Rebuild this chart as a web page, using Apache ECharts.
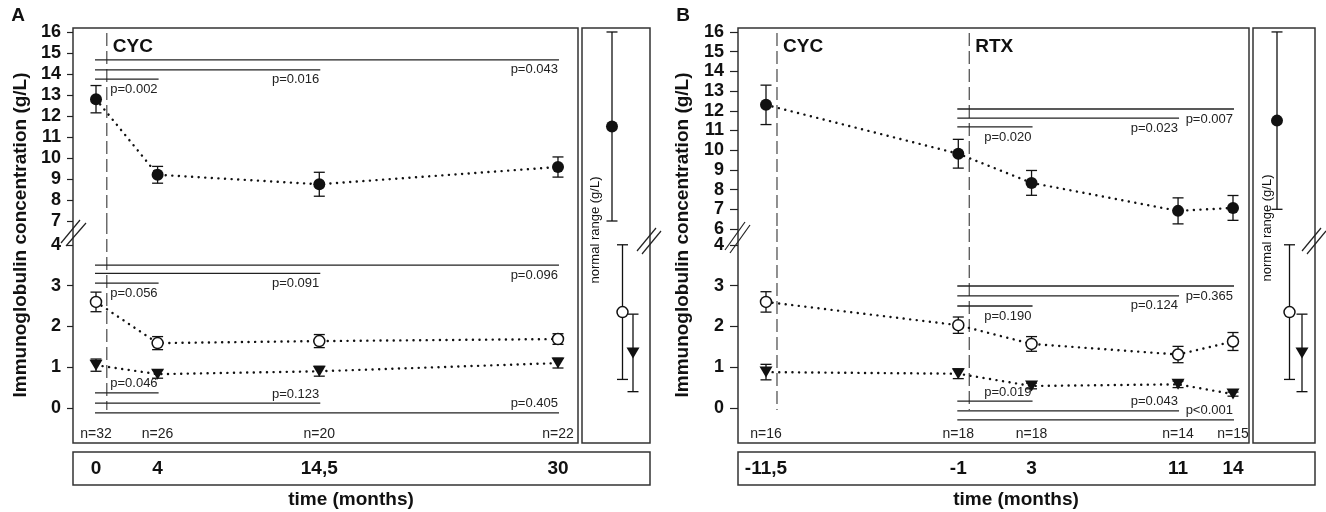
<!DOCTYPE html>
<html>
<head>
<meta charset="utf-8">
<title>Immunoglobulin concentration</title>
<script src="https://cdn.jsdelivr.net/npm/echarts@6.0.0/dist/echarts.min.js"></script>
<style>
  html, body { margin: 0; padding: 0; background: #fff; }
  #chart { width: 1326px; height: 512px; }
</style>
</head>
<body>
<div id="chart"></div>
<script>
// ---- panel A (CYC) ----
const timeA = [0, 4, 14.5, 30];
const nA = [32, 26, 20, 22];
const iggA = [12.8, 9.2, 8.75, 9.57];
const iggErrA = [0.65, 0.4, 0.57, 0.48];
const igaA = [2.6, 1.59, 1.64, 1.69];
const igaErrA = [0.24, 0.16, 0.16, 0.13];
const igmA = [1.05, 0.83, 0.9, 1.1];
const igmErrA = [0.15, 0.1, 0.12, 0.12];
const eventsA = [['CYC', 0.7]];
// significance bars: [from, to, level]
const sigIggA = [[0, 4, 13.76], [0, 14.5, 14.2], [0, 30, 14.67]];
const pIggA = ['p=0.002', 'p=0.016', 'p=0.043'];
const sigIgaA = [[0, 4, 3.06], [0, 14.5, 3.3], [0, 30, 3.5]];
const pIgaA = ['p=0.056', 'p=0.091', 'p=0.096'];
const sigIgmA = [[0, 4, 0.37], [0, 14.5, 0.12], [0, 30, -0.12]];
const pIgmA = ['p=0.046', 'p=0.123', 'p=0.405'];

// ---- panel B (CYC then RTX) ----
const timeB = [-11.5, -1, 3, 11, 14];
const nB = [16, 18, 18, 14, 15];
const iggB = [12.3, 9.82, 8.34, 6.92, 7.07];
const iggErrB = [1.0, 0.73, 0.63, 0.66, 0.63];
const igaB = [2.6, 2.03, 1.57, 1.31, 1.63];
const igaErrB = [0.25, 0.2, 0.18, 0.2, 0.22];
const igmB = [0.88, 0.84, 0.54, 0.58, 0.34];
const igmErrB = [0.19, 0.12, 0.07, 0.08, 0.05];
const eventsB = [['CYC', -10.9], ['RTX', -0.4]];
const sigIggB = [[-1, 3, 11.18], [-1, 11, 11.63], [-1, 14, 12.09]];
const pIggB = ['p=0.020', 'p=0.023', 'p=0.007'];
const sigIgaB = [[-1, 3, 2.5], [-1, 11, 2.75], [-1, 14, 2.99]];
const pIgaB = ['p=0.190', 'p=0.124', 'p=0.365'];
const sigIgmB = [[-1, 3, 0.17], [-1, 11, -0.07], [-1, 14, -0.29]];
const pIgmB = ['p=0.019', 'p=0.043', 'p<0.001'];

// normal range: IgG, IgA, IgM
const normLow = [7, 0.7, 0.4];
const normHigh = [16, 4.0, 2.3];
const normMid = [11.5, 2.35, 1.35];

// tick labels
const yTicksUpA = [7, 8, 9, 10, 11, 12, 13, 14, 15, 16];
const yTicksUpB = [6, 7, 8, 9, 10, 11, 12, 13, 14, 15, 16];
const yTicksLow = [0, 1, 2, 3, 4];

const FONT = '"Liberation Sans", Arial, sans-serif';
const INK = '#111';

const grid = [], xAxis = [], yAxis = [], series = [];

// one grid with its own x and y axis (same index for all three)
function addCell(box, xr, yr, xOpt, yOpt) {
  grid.push({ left: box[0], top: box[1], width: box[2], height: box[3], show: false, outerBoundsMode: 'none' });
  const gi = grid.length - 1;
  xAxis.push(Object.assign({ gridIndex: gi, type: 'value', min: xr[0], max: xr[1], show: false }, xOpt || {}));
  yAxis.push(Object.assign({ gridIndex: gi, type: 'value', min: yr[0], max: yr[1], show: false }, yOpt || {}));
  return gi;
}

function yLabelAxis(ticks, tickLen, margin) {
  return {
    show: true,
    axisLine: { show: false, onZero: false },
    splitLine: { show: false },
    axisTick: { show: true, length: tickLen, customValues: ticks, lineStyle: { color: '#222', width: 1.2 } },
    axisLabel: { show: true, customValues: ticks, margin: margin, color: INK, fontSize: 18, fontWeight: 'bold', fontFamily: FONT }
  };
}

function errRender(params, api) {
  const x = api.value(0);
  const top = api.coord([x, api.value(2)]);
  const bot = api.coord([x, api.value(1)]);
  const w = 5.5;
  const st = { stroke: INK, lineWidth: 1.3 };
  return {
    type: 'group', children: [
      { type: 'line', shape: { x1: top[0], y1: top[1], x2: bot[0], y2: bot[1] }, style: st },
      { type: 'line', shape: { x1: top[0] - w, y1: top[1], x2: top[0] + w, y2: top[1] }, style: st },
      { type: 'line', shape: { x1: bot[0] - w, y1: bot[1], x2: bot[0] + w, y2: bot[1] }, style: st }
    ]
  };
}

// rows are [x, low, high]
function errSeries(gi, rows) {
  return {
    type: 'custom', xAxisIndex: gi, yAxisIndex: gi, z: 4, silent: true,
    data: rows,
    encode: { x: 0, y: [1, 2] },
    renderItem: errRender
  };
}

const markers = {
  filled: { symbol: 'circle', symbolSize: 12, itemStyle: { color: INK, opacity: 1 } },
  open: { symbol: 'circle', symbolSize: 11, itemStyle: { color: '#fff', borderColor: INK, borderWidth: 1.5, opacity: 1 } },
  tri: { symbol: 'triangle', symbolRotate: 180, symbolSize: [13, 11], itemStyle: { color: INK, opacity: 1 } }
};

function lineSeries(gi, xs, vals, mk) {
  return Object.assign({
    type: 'line', xAxisIndex: gi, yAxisIndex: gi, z: 6, silent: true,
    data: xs.map((t, k) => [t, vals[k]]),
    lineStyle: { color: INK, width: 2.4, type: [0.1, 6.5], cap: 'round' }
  }, JSON.parse(JSON.stringify(mk)));
}

function sigSeries(gi, sig, labels, below) {
  return {
    type: 'custom', xAxisIndex: gi, yAxisIndex: gi, z: 3, silent: true,
    data: sig.map(s => s.slice()),
    encode: { x: [0, 1], y: 2 },
    renderItem: (params, api) => {
      const a = api.coord([api.value(0), api.value(2)]);
      const b = api.coord([api.value(1), api.value(2)]);
      return {
        type: 'group', children: [
          { type: 'line', shape: { x1: a[0] - 1, y1: a[1], x2: b[0] + 1, y2: b[1] }, style: { stroke: '#222', lineWidth: 1.3 } },
          { type: 'text', style: { text: labels[params.dataIndex], x: b[0], y: b[1] + (below ? 10 : -9),
            align: 'right', verticalAlign: 'middle', fill: '#222', fontSize: 13, fontFamily: FONT } }
        ]
      };
    }
  };
}

function eventSeries(gi, events, withLabel, endValue) {
  return {
    type: 'custom', xAxisIndex: gi, yAxisIndex: gi, z: 2, silent: true,
    data: events.map(e => [e[1], 0]),
    encode: { x: 0, y: 1 },
    renderItem: (params, api) => {
      const cs = params.coordSys;
      const x = api.coord([api.value(0), 0])[0];
      const y1 = withLabel ? cs.y + 5 : cs.y;
      const y2 = withLabel ? cs.y + cs.height : api.coord([api.value(0), endValue])[1];
      const kids = [{ type: 'line', shape: { x1: x, y1: y1, x2: x, y2: y2 },
        style: { stroke: '#555', lineWidth: 1.3, lineDash: [13, 5] } }];
      if (withLabel) {
        kids.push({ type: 'text', style: { text: events[params.dataIndex][0], x: x + 6, y: cs.y + 19,
          align: 'left', verticalAlign: 'middle', fill: INK, fontSize: 19, fontWeight: 'bold', fontFamily: FONT } });
      }
      return { type: 'group', children: kids };
    }
  };
}

function scatterMark(gi, x, y, mk) {
  return Object.assign({ type: 'scatter', xAxisIndex: gi, yAxisIndex: gi, z: 6, silent: true, data: [[x, y]] },
    JSON.parse(JSON.stringify(mk)));
}

function buildPanel(P) {
  const xr = [P.xMin, P.xMax];
  const w = P.right - P.left;
  const upR = [P.upMin, P.upMax];
  const loR = [-0.858, P.loMax];
  const up = addCell([P.left, 28, w, P.split - 28], xr, upR, null, yLabelAxis(P.ticksUp, P.tickLen, P.margin));
  const lo = addCell([P.left, P.split, w, 443 - P.split], xr, loR, {
    show: true, axisLine: { show: false, onZero: false }, axisTick: { show: false }, splitLine: { show: false },
    axisLabel: { show: true, inside: true, margin: 2, customValues: P.time,
      formatter: v => 'n=' + P.n[P.time.indexOf(v)], fontSize: 14, color: '#222', fontFamily: FONT }
  }, yLabelAxis(yTicksLow, P.tickLen, P.margin));
  const nw = P.normRight - P.normLeft;
  const nr = [P.nMin, P.nMax];
  const nUp = addCell([P.normLeft, 28, nw, P.split - 28], nr, upR);
  const nLo = addCell([P.normLeft, P.split, nw, 443 - P.split], nr, loR);
  addCell([P.left, 452, w, 33], xr, [0, 1], {
    show: true, axisLine: { show: false, onZero: false }, axisTick: { show: false }, splitLine: { show: false },
    axisLabel: { show: true, inside: true, margin: 7, customValues: P.time,
      formatter: v => String(v).replace('.', ','), fontSize: 19, fontWeight: 'bold', color: INK, fontFamily: FONT }
  });

  const rows = (vals, errs) => P.time.map((t, k) => [t, vals[k] - errs[k], vals[k] + errs[k]]);

  series.push(eventSeries(up, P.events, true));
  series.push(eventSeries(lo, P.events, false, -0.05));
  series.push(sigSeries(up, P.sigG, P.pG, true));
  series.push(sigSeries(lo, P.sigA, P.pA, true));
  series.push(sigSeries(lo, P.sigM, P.pM, false));
  series.push(errSeries(up, rows(P.igg, P.iggErr)));
  series.push(errSeries(lo, rows(P.iga, P.igaErr)));
  series.push(errSeries(lo, rows(P.igm, P.igmErr)));
  series.push(lineSeries(up, P.time, P.igg, markers.filled));
  series.push(lineSeries(lo, P.time, P.iga, markers.open));
  series.push(lineSeries(lo, P.time, P.igm, markers.tri));

  // normal range column: IgG (upper scale), IgA and IgM (lower scale)
  series.push(errSeries(nUp, [[0, normLow[0], normHigh[0]]]));
  series.push(errSeries(nLo, [[1, normLow[1], normHigh[1]], [2, normLow[2], normHigh[2]]]));
  series.push(scatterMark(nUp, 0, normMid[0], markers.filled));
  series.push(scatterMark(nLo, 1, normMid[1], markers.open));
  series.push(scatterMark(nLo, 2, normMid[2], markers.tri));
}

buildPanel({
  left: 73, right: 578, normLeft: 582, normRight: 650, split: 221,
  xMin: -1.494, xMax: 31.3, upMin: 7, upMax: 16.19, loMax: 4.583, nMin: -2.857, nMax: 3.619,
  ticksUp: yTicksUpA, tickLen: 6, margin: 12,
  time: timeA, n: nA, igg: iggA, iggErr: iggErrA, iga: igaA, igaErr: igaErrA, igm: igmA, igmErr: igmErrA,
  events: eventsA, sigG: sigIggA, pG: pIggA, sigA: sigIgaA, pA: pIgaA, sigM: sigIgmA, pM: pIgmA
});
buildPanel({
  left: 738, right: 1249, normLeft: 1253, normRight: 1315, split: 229,
  xMin: -13.029, xMax: 14.874, upMin: 6, upMax: 16.2, loMax: 4.387, nMin: -1.92, nMax: 3.04,
  ticksUp: yTicksUpB, tickLen: 8, margin: 14,
  time: timeB, n: nB, igg: iggB, iggErr: iggErrB, iga: igaB, igaErr: igaErrB, igm: igmB, igmErr: igmErrB,
  events: eventsB, sigG: sigIggB, pG: pIggB, sigA: sigIgaB, pA: pIgaB, sigM: sigIgmB, pM: pIgmB
});

// frames, break marks and titles
const boxStyle = { fill: 'none', stroke: '#333', lineWidth: 1.5 };
function rect(x, y, w, h) { return { type: 'rect', silent: true, shape: { x: x, y: y, width: w, height: h }, style: boxStyle }; }
function slash(x1, y1, x2, y2) {
  return { type: 'line', silent: true, shape: { x1: x1, y1: y1, x2: x2, y2: y2 }, style: { stroke: '#222', lineWidth: 1.2 } };
}
function txt(x, y, text, size, bold, rot) {
  return { type: 'text', silent: true, x: x, y: y, rotation: rot || 0,
    style: { text: text, align: 'center', verticalAlign: 'middle', fill: INK, fontSize: size,
      fontWeight: bold ? 'bold' : 'normal', fontFamily: FONT } };
}
const graphic = [
  rect(73, 28, 505, 415), rect(582, 28, 68, 415), rect(73, 452, 577, 33),
  rect(738, 28, 511, 415), rect(1253, 28, 62, 415), rect(738, 452, 577, 33),
  slash(61, 243, 80, 220), slash(66, 246, 86, 223),
  slash(637, 251, 656, 228), slash(642, 254, 661, 231),
  slash(725, 250, 745, 222), slash(730, 253, 750, 225),
  slash(1302, 251, 1321, 228), slash(1307, 254, 1326, 231),
  txt(18, 16, 'A', 19, true), txt(683, 16, 'B', 19, true),
  txt(21, 235, 'Immunoglobulin concentration (g/L)', 19, true, Math.PI / 2),
  txt(683, 235, 'Immunoglobulin concentration (g/L)', 19, true, Math.PI / 2),
  txt(351, 500, 'time (months)', 19, true), txt(1016, 500, 'time (months)', 19, true),
  txt(595, 230, 'normal range (g/L)', 13, false, Math.PI / 2),
  txt(1267, 228, 'normal range (g/L)', 13, false, Math.PI / 2)
];

const chart = echarts.init(document.getElementById('chart'));
chart.setOption({
  backgroundColor: '#fff',
  animation: false,
  textStyle: { fontFamily: FONT },
  grid: grid,
  xAxis: xAxis,
  yAxis: yAxis,
  series: series,
  graphic: graphic
});
</script>
</body>
</html>
